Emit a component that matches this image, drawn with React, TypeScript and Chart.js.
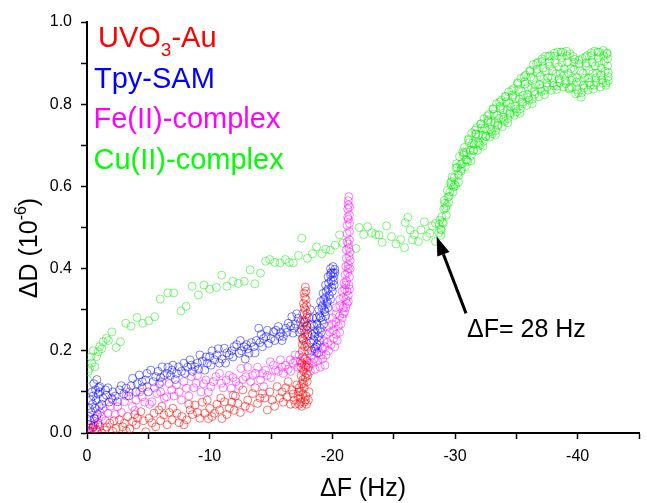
import React, { useEffect, useRef } from 'react';
import { Chart, registerables } from 'chart.js';

Chart.register(...registerables);

type P = [number, number];

// ---------- data (ΔF in Hz, ΔD in 1e-6) ----------
const uvoPoints: P[] = [
  [-0.2, 0.005], [-0.45, 0.012], [-0.6, 0.02], [-0.78, 0.007], [-1.04, 0.015], [-1.2, 0.0], [-1.45, 0.007],
  [-1.6, 0.015], [-1.85, 0.024], [-2.1, 0.004], [-2.2, 0.03], [-2.38, 0.011], [-2.65, 0.032], [-2.9, 0.015],
  [-3.05, 0.024], [-3.2, 0.005], [-3.32, 0.04], [-3.5, 0.01], [-3.72, 0.028], [-3.9, 0.045], [-4.0, 0.02],
  [-4.12, 0.036], [-4.39, 0.052], [-4.6, 0.03], [-4.79, 0.003], [-5.06, 0.036], [-5.3, 0.025], [-5.46, 0.048],
  [-5.6, 0.015], [-5.86, 0.056], [-6.0, 0.03], [-6.1, 0.065], [-6.27, 0.044], [-6.53, 0.02], [-6.7, 0.05],
  [-6.93, 0.032], [-7.0, 0.06], [-7.33, 0.048], [-7.5, 0.025], [-7.73, 0.04], [-7.9, 0.02], [-8.13, 0.032],
  [-8.3, 0.07], [-8.4, 0.056], [-8.6, 0.045], [-8.8, 0.068], [-9.0, 0.05], [-9.2, 0.036], [-9.4, 0.075],
  [-9.6, 0.048], [-9.8, 0.08], [-9.9, 0.035], [-10.0, 0.06], [-10.2, 0.04], [-10.4, 0.048], [-10.6, 0.07],
  [-10.8, 0.056], [-10.9, 0.085], [-11.0, 0.035], [-11.2, 0.076], [-11.4, 0.045], [-11.6, 0.06], [-11.8, 0.075],
  [-11.9, 0.092], [-12.0, 0.055], [-12.1, 0.09], [-12.3, 0.072], [-12.5, 0.05], [-12.7, 0.105], [-12.9, 0.065],
  [-13.1, 0.08], [-13.3, 0.06], [-13.5, 0.096], [-13.7, 0.11], [-13.9, 0.072], [-14.1, 0.085], [-14.3, 0.096],
  [-14.5, 0.085], [-14.7, 0.056], [-14.9, 0.1], [-15.1, 0.08], [-15.3, 0.065], [-15.5, 0.113], [-15.7, 0.085],
  [-15.9, 0.1], [-16.0, 0.075], [-16.2, 0.11], [-16.3, 0.088], [-16.4, 0.125], [-16.6, 0.07], [-16.7, 0.105],
  [-16.8, 0.095], [-16.9, 0.08], [-17.0, 0.07], [-17.1, 0.117],
  [-17.3, 0.07], [-17.5, 0.065], [-17.7, 0.075], [-17.9, 0.07], [-18.05, 0.08], [-17.2, 0.09], [-17.4, 0.085],
  [-17.25, 0.1], [-17.4, 0.075], [-17.8, 0.08], [-17.6, 0.095], [-17.85, 0.09], [-18.1, 0.1], [-17.4, 0.1],
  [-17.3, 0.11], [-17.5, 0.12], [-17.7, 0.11], [-17.95, 0.125], [-17.65, 0.12], [-17.6, 0.13], [-17.8, 0.135],
  [-18.0, 0.14], [-17.45, 0.14], [-17.65, 0.15], [-17.9, 0.145], [-17.45, 0.16], [-17.7, 0.165], [-17.85, 0.16],
  [-18.05, 0.16], [-17.5, 0.17], [-17.7, 0.18], [-17.95, 0.175], [-17.6, 0.185], [-17.55, 0.2], [-17.75, 0.21],
  [-18.0, 0.2], [-17.55, 0.215], [-17.95, 0.21], [-17.85, 0.22], [-17.65, 0.225], [-17.55, 0.23], [-17.75, 0.24],
  [-17.95, 0.235], [-17.7, 0.25], [-17.9, 0.25], [-17.6, 0.26], [-17.8, 0.27], [-17.95, 0.26], [-17.65, 0.275],
  [-17.9, 0.28], [-17.6, 0.29], [-17.8, 0.3], [-17.95, 0.29], [-17.7, 0.305], [-17.9, 0.31], [-17.65, 0.315],
  [-17.85, 0.325], [-17.75, 0.33], [-17.7, 0.34], [-17.85, 0.345], [-17.8, 0.355],
];

const tpyPoints: P[] = [
  [-0.1, 0.02], [-0.15, 0.04], [-0.2, 0.06], [-0.25, 0.03], [-0.3, 0.08], [-0.35, 0.05], [-0.4, 0.1],
  [-0.45, 0.07], [-0.5, 0.09], [-0.55, 0.12], [-0.6, 0.035], [-0.65, 0.06], [-0.7, 0.105], [-0.75, 0.08],
  [-0.8, 0.13], [-0.85, 0.045], [-0.9, 0.095], [-0.95, 0.11], [-1.0, 0.065], [-1.05, 0.1], [-0.5, 0.015], [-0.9, 0.02],
  [-1.04, 0.113], [-1.2, 0.07], [-1.3, 0.085], [-1.5, 0.105], [-1.58, 0.092], [-1.7, 0.11], [-1.8, 0.075],
  [-2.0, 0.085], [-2.11, 0.1], [-2.3, 0.09], [-2.5, 0.076], [-2.65, 0.105], [-2.8, 0.115], [-3.0, 0.095],
  [-3.19, 0.109], [-3.4, 0.09], [-3.6, 0.115], [-3.72, 0.133], [-4.0, 0.1], [-4.1, 0.12], [-4.26, 0.141],
  [-4.5, 0.11], [-4.5, 0.125], [-4.79, 0.129], [-4.9, 0.145], [-5.0, 0.1], [-5.2, 0.153], [-5.4, 0.125],
  [-5.6, 0.137], [-5.8, 0.15], [-5.9, 0.12], [-6.0, 0.135], [-6.13, 0.161], [-6.3, 0.14], [-6.53, 0.145],
  [-6.6, 0.16], [-6.8, 0.14], [-6.93, 0.153], [-7.0, 0.165], [-7.2, 0.13], [-7.3, 0.145], [-7.47, 0.161],
  [-7.7, 0.15], [-7.9, 0.17], [-8.0, 0.145], [-8.2, 0.16], [-8.4, 0.178], [-8.5, 0.165], [-8.6, 0.15],
  [-8.8, 0.161], [-9.0, 0.17], [-9.1, 0.155], [-9.2, 0.19], [-9.4, 0.175], [-9.6, 0.153], [-9.7, 0.185],
  [-9.8, 0.17], [-10.0, 0.186], [-10.1, 0.165], [-10.2, 0.2], [-10.4, 0.178], [-10.6, 0.19], [-10.7, 0.205],
  [-10.8, 0.17], [-11.0, 0.18], [-11.2, 0.206], [-11.3, 0.17], [-11.4, 0.195], [-11.6, 0.19], [-11.8, 0.2],
  [-11.9, 0.185], [-12.0, 0.21], [-12.2, 0.215], [-12.4, 0.194], [-12.5, 0.225], [-12.6, 0.2], [-12.8, 0.21],
  [-12.9, 0.18], [-13.0, 0.215], [-13.1, 0.205], [-13.2, 0.194], [-13.4, 0.22], [-13.6, 0.21], [-13.7, 0.195],
  [-13.8, 0.225], [-14.0, 0.255], [-14.1, 0.22], [-14.2, 0.24], [-14.3, 0.21], [-14.4, 0.23], [-14.6, 0.235],
  [-14.7, 0.25], [-14.8, 0.218], [-15.0, 0.23], [-15.2, 0.246], [-15.3, 0.225], [-15.4, 0.25], [-15.6, 0.259],
  [-15.7, 0.235], [-15.8, 0.245], [-15.9, 0.225], [-16.0, 0.235], [-16.2, 0.255], [-16.3, 0.245], [-16.4, 0.267],
  [-16.6, 0.26], [-16.7, 0.283], [-16.8, 0.243], [-16.9, 0.255], [-17.0, 0.265], [-17.1, 0.29], [-17.2, 0.279],
  [-17.3, 0.245], [-17.4, 0.27], [-17.5, 0.25], [-17.6, 0.23], [-17.7, 0.27], [-17.9, 0.26], [-18.0, 0.24],
  [-18.1, 0.28], [-18.2, 0.3], [-18.3, 0.265], [-18.4, 0.28],
  [-18.3, 0.2], [-18.55, 0.205], [-18.75, 0.195], [-18.65, 0.21], [-18.25, 0.22], [-18.5, 0.225], [-18.75, 0.215],
  [-18.95, 0.225], [-18.55, 0.235], [-18.35, 0.24], [-18.6, 0.245], [-18.85, 0.235], [-19.1, 0.245], [-18.8, 0.25],
  [-18.5, 0.26], [-18.75, 0.265], [-19.0, 0.255], [-19.3, 0.265], [-18.7, 0.28], [-18.95, 0.285], [-19.05, 0.28],
  [-19.2, 0.275], [-19.45, 0.285], [-18.9, 0.3], [-19.15, 0.305], [-19.35, 0.3], [-19.4, 0.295], [-19.65, 0.305],
  [-19.2, 0.31], [-19.05, 0.32], [-19.3, 0.325], [-19.55, 0.315], [-19.6, 0.32], [-19.85, 0.325], [-19.45, 0.33],
  [-19.25, 0.34], [-19.5, 0.345], [-19.75, 0.335], [-20.0, 0.345], [-19.65, 0.35], [-19.45, 0.36], [-19.7, 0.365],
  [-19.95, 0.355], [-20.15, 0.36], [-20.1, 0.37], [-19.9, 0.37], [-19.65, 0.38], [-19.85, 0.385], [-20.1, 0.38],
  [-20.2, 0.39], [-19.9, 0.39], [-20.05, 0.39], [-19.85, 0.4], [-20.05, 0.405], [-20.2, 0.398],
];

const fePoints: P[] = [
  [-0.1, 0.005], [-0.25, 0.012], [-0.35, 0.0], [-0.5, 0.02], [-0.6, 0.035], [-0.7, 0.01], [-0.78, 0.04],
  [-0.9, 0.025], [-1.05, 0.05], [-1.2, 0.04], [-1.3, 0.06], [-1.5, 0.03], [-1.71, 0.048], [-1.9, 0.065],
  [-2.1, 0.08], [-2.3, 0.045], [-2.5, 0.064], [-2.8, 0.05], [-3.05, 0.076], [-3.2, 0.09], [-3.45, 0.1],
  [-3.7, 0.065], [-3.9, 0.055], [-4.0, 0.08], [-4.3, 0.1], [-4.5, 0.088], [-4.7, 0.075], [-4.9, 0.113],
  [-5.1, 0.07], [-5.3, 0.076], [-5.5, 0.11], [-5.7, 0.096], [-6.0, 0.1], [-6.1, 0.125], [-6.3, 0.085],
  [-6.5, 0.088], [-6.7, 0.12], [-6.9, 0.105], [-7.1, 0.09], [-7.3, 0.117], [-7.5, 0.1], [-7.7, 0.08],
  [-7.9, 0.125], [-8.1, 0.109], [-8.3, 0.09], [-8.5, 0.137], [-8.7, 0.11], [-8.9, 0.121], [-9.0, 0.14],
  [-9.3, 0.1], [-9.5, 0.12], [-9.7, 0.129], [-9.9, 0.1], [-10.1, 0.113], [-10.3, 0.125], [-10.5, 0.137],
  [-10.8, 0.145], [-10.95, 0.121], [-11.1, 0.11], [-11.35, 0.129], [-11.6, 0.14], [-11.75, 0.109],
  [-11.9, 0.135], [-12.15, 0.125], [-12.4, 0.115], [-12.55, 0.157], [-12.7, 0.13], [-12.95, 0.137],
  [-13.1, 0.16], [-13.35, 0.125], [-13.5, 0.14], [-13.75, 0.145], [-13.9, 0.16], [-14.15, 0.129],
  [-14.3, 0.145], [-14.4, 0.113], [-14.55, 0.153], [-14.7, 0.14], [-14.95, 0.173], [-15.0, 0.135],
  [-15.2, 0.165], [-15.37, 0.153], [-15.6, 0.15], [-15.77, 0.178], [-15.9, 0.16], [-16.0, 0.145],
  [-16.17, 0.165], [-16.4, 0.155], [-16.57, 0.178], [-16.6, 0.15], [-16.8, 0.17], [-16.97, 0.19],
  [-17.0, 0.175], [-17.2, 0.16], [-17.3, 0.19], [-17.4, 0.175],
  [-17.6, 0.155], [-17.8, 0.18], [-17.9, 0.165], [-18.1, 0.17], [-18.2, 0.15], [-18.4, 0.17], [-18.5, 0.18],
  [-18.6, 0.155], [-18.8, 0.175], [-19.0, 0.16], [-19.1, 0.19], [-19.2, 0.18], [-19.4, 0.165], [-18.3, 0.19],
  [-18.6, 0.2], [-18.9, 0.195], [-19.2, 0.205], [-19.4, 0.21], [-19.5, 0.19], [-19.7, 0.2], [-19.0, 0.215],
  [-19.3, 0.225], [-19.6, 0.22], [-19.9, 0.215], [-20.2, 0.21], [-20.1, 0.23], [-20.4, 0.225], [-19.5, 0.24],
  [-19.8, 0.245], [-20.1, 0.25], [-20.3, 0.24], [-20.6, 0.245], [-19.7, 0.26], [-20.0, 0.265], [-20.3, 0.27],
  [-20.5, 0.26], [-20.7, 0.265], [-20.0, 0.28], [-20.3, 0.29], [-20.6, 0.285], [-20.8, 0.28], [-20.9, 0.29],
  [-20.3, 0.305], [-20.6, 0.31], [-20.9, 0.305], [-21.0, 0.295], [-21.1, 0.305], [-20.6, 0.325], [-20.9, 0.33],
  [-21.1, 0.325], [-21.2, 0.315], [-21.3, 0.32], [-20.8, 0.345], [-21.0, 0.35], [-21.2, 0.345], [-21.3, 0.335],
  [-21.4, 0.35], [-20.95, 0.365], [-21.15, 0.37], [-21.35, 0.36], [-21.1, 0.36], [-21.05, 0.385], [-21.25, 0.39],
  [-21.4, 0.38], [-21.1, 0.405], [-21.3, 0.41], [-21.45, 0.4], [-21.3, 0.4], [-21.15, 0.425], [-21.35, 0.43],
  [-21.45, 0.42], [-21.15, 0.445], [-21.35, 0.45], [-21.45, 0.44], [-21.3, 0.46], [-21.2, 0.465], [-21.4, 0.47],
  [-21.2, 0.485], [-21.4, 0.49], [-21.2, 0.505], [-21.4, 0.51], [-21.3, 0.52], [-21.25, 0.525], [-21.4, 0.53],
  [-21.25, 0.545], [-21.4, 0.55], [-21.3, 0.555], [-21.3, 0.565], [-21.35, 0.575],
];

const cuPoints: P[] = [
  [-0.05, 0.13], [-0.1, 0.15], [-0.2, 0.157], [-0.3, 0.185], [-0.38, 0.17], [-0.5, 0.2], [-0.64, 0.161],
  [-0.78, 0.186], [-0.91, 0.198], [-1.04, 0.21], [-1.2, 0.205], [-1.31, 0.222], [-1.58, 0.23], [-1.75, 0.225],
  [-2.03, 0.246], [-2.38, 0.208], [-2.73, 0.222], [-3.16, 0.267], [-3.59, 0.26], [-4.07, 0.281], [-4.55, 0.267],
  [-5.03, 0.273], [-5.52, 0.283], [-5.97, 0.326], [-6.59, 0.341], [-7.07, 0.341], [-7.66, 0.297], [-8.08, 0.308],
  [-8.57, 0.357], [-9.08, 0.336], [-9.53, 0.36], [-10.0, 0.35], [-10.55, 0.354], [-10.98, 0.384], [-11.4, 0.357],
  [-11.89, 0.369], [-12.34, 0.364], [-12.82, 0.369], [-13.3, 0.397], [-13.68, 0.363], [-14.14, 0.389],
  [-14.56, 0.418], [-14.89, 0.422], [-15.31, 0.415], [-15.74, 0.414], [-16.17, 0.422], [-16.49, 0.415],
  [-16.81, 0.414], [-17.24, 0.432], [-17.51, 0.474], [-17.97, 0.425], [-18.39, 0.436], [-18.71, 0.453],
  [-19.14, 0.436], [-19.46, 0.447], [-19.84, 0.445], [-20.22, 0.457], [-20.59, 0.482], [-20.86, 0.462],
  [-21.93, 0.449], [-22.19, 0.5], [-22.55, 0.483], [-22.87, 0.502], [-23.21, 0.487], [-23.53, 0.483],
  [-23.8, 0.482], [-24.07, 0.464], [-24.42, 0.504], [-24.82, 0.478], [-25.19, 0.46], [-25.57, 0.471],
  [-25.89, 0.451], [-25.94, 0.512], [-26.16, 0.525], [-26.35, 0.494], [-26.53, 0.47], [-26.69, 0.483],
  [-27.01, 0.466], [-27.23, 0.494], [-27.5, 0.514], [-27.69, 0.478], [-27.95, 0.486], [-28.14, 0.504],
  [-28.41, 0.51], [-28.41, 0.466], [-28.67, 0.487], [-28.84, 0.496],
  // rising band
  [-28.77, 0.518], [-28.89, 0.494], [-28.72, 0.507], [-28.84, 0.481],
  [-28.97, 0.513], [-29.09, 0.545], [-28.92, 0.526], [-29.04, 0.51],
  [-29.17, 0.559], [-29.29, 0.53], [-29.12, 0.566], [-29.24, 0.547],
  [-29.37, 0.59], [-29.49, 0.561], [-29.32, 0.553], [-29.44, 0.574],
  [-29.57, 0.586], [-29.69, 0.603], [-29.52, 0.576], [-29.64, 0.609],
  [-29.77, 0.623], [-29.89, 0.599], [-29.72, 0.612], [-29.84, 0.586],
  [-29.97, 0.605], [-30.09, 0.645], [-29.92, 0.621], [-30.04, 0.601],
  [-30.17, 0.646], [-30.29, 0.61], [-30.12, 0.655], [-30.24, 0.631],
  [-30.37, 0.673], [-30.49, 0.637], [-30.32, 0.627], [-30.44, 0.653],
  [-30.57, 0.655], [-30.69, 0.676], [-30.52, 0.643], [-30.64, 0.684],
  [-30.77, 0.695], [-30.89, 0.665], [-30.72, 0.681], [-30.84, 0.648],
  [-30.97, 0.664], [-31.09, 0.712], [-30.92, 0.684], [-31.04, 0.66],
  [-31.17, 0.706], [-31.29, 0.662], [-31.12, 0.716], [-31.24, 0.688],
  [-31.37, 0.73], [-31.49, 0.687], [-31.32, 0.675], [-31.44, 0.706],
  [-31.57, 0.702], [-31.69, 0.728], [-31.52, 0.687], [-31.64, 0.737],
  [-31.77, 0.743], [-31.89, 0.707], [-31.72, 0.727], [-31.84, 0.688],
  [-31.97, 0.704], [-32.09, 0.752], [-31.92, 0.724], [-32.04, 0.7],
  [-32.17, 0.742], [-32.29, 0.698], [-32.12, 0.752], [-32.24, 0.724],
  [-32.37, 0.765], [-32.49, 0.722], [-32.32, 0.71], [-32.44, 0.741],
  [-32.57, 0.736], [-32.69, 0.762], [-32.52, 0.721], [-32.64, 0.771],
  [-32.77, 0.775], [-32.89, 0.739], [-32.72, 0.759], [-32.84, 0.72],
  [-32.97, 0.733], [-33.09, 0.789], [-32.92, 0.756], [-33.04, 0.728],
  [-33.17, 0.776], [-33.29, 0.725], [-33.12, 0.788], [-33.24, 0.755],
  [-33.37, 0.801], [-33.49, 0.75], [-33.32, 0.736], [-33.44, 0.773],
  [-33.57, 0.765], [-33.69, 0.795], [-33.52, 0.748], [-33.64, 0.805],
  [-33.77, 0.81], [-33.89, 0.768], [-33.72, 0.79], [-33.84, 0.745],
  [-33.97, 0.763], [-34.09, 0.819], [-33.92, 0.786], [-34.04, 0.758],
  [-34.17, 0.806], [-34.29, 0.755], [-34.12, 0.818], [-34.24, 0.785],
  [-34.37, 0.83], [-34.49, 0.779], [-34.32, 0.765], [-34.44, 0.802],
  [-34.57, 0.793], [-34.69, 0.823], [-34.52, 0.776], [-34.64, 0.833],
  [-34.77, 0.838], [-34.89, 0.796], [-34.72, 0.818], [-34.84, 0.773],
  [-34.97, 0.788], [-35.09, 0.852], [-34.92, 0.814], [-35.04, 0.782],
  [-35.17, 0.836], [-35.29, 0.778], [-35.12, 0.85], [-35.24, 0.812],
  [-35.37, 0.863], [-35.49, 0.805], [-35.32, 0.789], [-35.44, 0.831],
  [-35.57, 0.821], [-35.69, 0.855], [-35.52, 0.801], [-35.64, 0.867],
  [-35.77, 0.871], [-35.89, 0.823], [-35.72, 0.849], [-35.84, 0.797],
  [-35.97, 0.816], [-36.09, 0.88], [-35.92, 0.842], [-36.04, 0.81],
  [-36.17, 0.866], [-36.29, 0.801], [-36.12, 0.882], [-36.24, 0.839],
  [-36.37, 0.896], [-36.49, 0.831], [-36.32, 0.813], [-36.44, 0.86],
  [-36.57, 0.847], [-36.69, 0.885], [-36.52, 0.824], [-36.64, 0.899],
  [-36.77, 0.902], [-36.89, 0.848], [-36.72, 0.877], [-36.84, 0.818],
  [-36.97, 0.838], [-37.09, 0.91], [-36.92, 0.867], [-37.04, 0.831],
  [-37.17, 0.888], [-37.29, 0.823], [-37.12, 0.904], [-37.24, 0.861],
  [-37.37, 0.917], [-37.49, 0.852], [-37.32, 0.834], [-37.44, 0.881],
  [-37.57, 0.865], [-37.69, 0.903], [-37.52, 0.842], [-37.64, 0.917],
  [-37.77, 0.918], [-37.89, 0.864], [-37.72, 0.893], [-37.84, 0.834],
  [-37.97, 0.852], [-38.09, 0.924], [-37.92, 0.881], [-38.04, 0.845],
  [-38.17, 0.901], [-38.29, 0.836], [-38.12, 0.917], [-38.24, 0.874],
  [-38.37, 0.927], [-38.49, 0.862], [-38.32, 0.844], [-38.44, 0.891],
  [-38.57, 0.875], [-38.69, 0.913], [-38.52, 0.852], [-38.64, 0.927],
  [-38.77, 0.926], [-38.89, 0.871], [-38.72, 0.901], [-38.84, 0.842],
  [-38.97, 0.857], [-39.09, 0.929], [-38.92, 0.886], [-39.04, 0.85],
  [-39.17, 0.902], [-39.29, 0.837], [-39.12, 0.918], [-39.24, 0.875],
  [-39.37, 0.923], [-39.49, 0.858], [-39.32, 0.84], [-39.44, 0.887],
  [-39.57, 0.864], [-39.69, 0.902], [-39.52, 0.841], [-39.64, 0.916],
  [-39.77, 0.909], [-39.89, 0.854], [-39.72, 0.884], [-39.84, 0.825],
  [-39.97, 0.835], [-40.09, 0.907], [-39.92, 0.864], [-40.04, 0.828],
  [-40.17, 0.882], [-40.29, 0.817], [-40.12, 0.898], [-40.24, 0.855],
  [-40.37, 0.911], [-40.49, 0.846], [-40.32, 0.828], [-40.44, 0.875],
  [-40.57, 0.863], [-40.69, 0.901], [-40.52, 0.84], [-40.64, 0.915],
  [-40.77, 0.918], [-40.89, 0.864], [-40.72, 0.893], [-40.84, 0.834],
  [-40.97, 0.853], [-41.09, 0.925], [-40.92, 0.882], [-41.04, 0.846],
  [-41.17, 0.902], [-41.29, 0.837], [-41.12, 0.918], [-41.24, 0.875],
  [-41.37, 0.929], [-41.49, 0.864], [-41.32, 0.846], [-41.44, 0.893],
  [-41.57, 0.875], [-41.69, 0.913], [-41.52, 0.852], [-41.64, 0.927],
  [-41.77, 0.926], [-41.89, 0.871], [-41.72, 0.901], [-41.84, 0.842],
  [-41.97, 0.859], [-42.09, 0.931], [-41.92, 0.888], [-42.04, 0.852],
  [-42.17, 0.904], [-42.29, 0.846], [-42.12, 0.918], [-42.24, 0.88],
  [-42.37, 0.925], [-42.49, 0.867], [-42.32, 0.851], [-42.44, 0.893],
  [-42.5, 0.877], [-42.45, 0.911], [-42.5, 0.857], [-42.42, 0.923],
];

const seriesColors = ['rgba(255,0,0,0.55)', 'rgba(0,0,255,0.5)', 'rgba(255,0,255,0.5)', 'rgba(0,230,0,0.5)'];
const legendColors = ['#ff0000', '#0000ff', '#ff00ff', '#00ff00'];
// legend labels split as [main, subscript, rest]
const legendLabels: [string, string, string][] = [
  ['UVO', '3', '-Au'],
  ['Tpy-SAM', '', ''],
  ['Fe(II)-complex', '', ''],
  ['Cu(II)-complex', '', ''],
];
const xMajorTicks = [0, -10, -20, -30, -40];
const yMajorTicks = [0, 0.2, 0.4, 0.6, 0.8, 1.0];
const arrowTail: P = [-30.9, 0.291];
const arrowHead: P = [-28.5, 0.478];
const annotationText = 'ΔF= 28 Hz';
const xTitle = 'ΔF (Hz)';
const yTitleMain = 'ΔD (10';
const yTitleSup = '-6';
const yTitleEnd = ')';

const FONT = '"Liberation Sans", Arial, Helvetica, sans-serif';

const overlayPlugin = {
  id: 'overlay',
  afterDraw(chart: any) {
    const ctx: CanvasRenderingContext2D = chart.ctx;
    const xs = chart.scales.x;
    const ys = chart.scales.y;
    ctx.save();

    // legend text
    const baselines = [46.5, 87.5, 128, 168.5];
    const lefts = [98, 94, 93.5, 93.5];
    legendLabels.forEach((parts, i) => {
      ctx.fillStyle = legendColors[i];
      ctx.font = `29px ${FONT}`;
      ctx.textAlign = 'left';
      ctx.textBaseline = 'alphabetic';
      let x = lefts[i];
      ctx.fillText(parts[0], x, baselines[i]);
      x += ctx.measureText(parts[0]).width;
      if (parts[1]) {
        ctx.font = `19px ${FONT}`;
        ctx.fillText(parts[1], x, baselines[i] + 9);
        x += ctx.measureText(parts[1]).width;
        ctx.font = `29px ${FONT}`;
      }
      if (parts[2]) ctx.fillText(parts[2], x, baselines[i]);
    });

    // arrow
    const x1 = xs.getPixelForValue(arrowTail[0]);
    const y1 = ys.getPixelForValue(arrowTail[1]);
    const x2 = xs.getPixelForValue(arrowHead[0]);
    const y2 = ys.getPixelForValue(arrowHead[1]);
    const ang = Math.atan2(y2 - y1, x2 - x1);
    const headLen = 19;
    const headW = 6.5;
    const bx = x2 - headLen * Math.cos(ang);
    const by = y2 - headLen * Math.sin(ang);
    ctx.strokeStyle = '#000';
    ctx.fillStyle = '#000';
    ctx.lineWidth = 3;
    ctx.beginPath();
    ctx.moveTo(x1, y1);
    ctx.lineTo(bx, by);
    ctx.stroke();
    ctx.beginPath();
    ctx.moveTo(x2, y2);
    ctx.lineTo(bx + headW * Math.sin(ang), by - headW * Math.cos(ang));
    ctx.lineTo(bx - headW * Math.sin(ang), by + headW * Math.cos(ang));
    ctx.closePath();
    ctx.fill();

    // annotation text
    ctx.font = `25px ${FONT}`;
    ctx.textAlign = 'left';
    ctx.textBaseline = 'alphabetic';
    ctx.fillStyle = '#000';
    ctx.fillText(annotationText, 467, 337);

    // x title
    ctx.textAlign = 'center';
    ctx.fillText(xTitle, (chart.chartArea.left + chart.chartArea.right) / 2, 496);

    // y title (rotated)
    ctx.save();
    ctx.translate(37, 248);
    ctx.rotate(-Math.PI / 2);
    ctx.textAlign = 'left';
    ctx.font = `25px ${FONT}`;
    const w1 = ctx.measureText(yTitleMain).width;
    ctx.font = `16px ${FONT}`;
    const w2 = ctx.measureText(yTitleSup).width;
    ctx.font = `25px ${FONT}`;
    const w3 = ctx.measureText(yTitleEnd).width;
    let sx = -(w1 + w2 + w3) / 2;
    ctx.fillText(yTitleMain, sx, 0);
    sx += w1;
    ctx.font = `16px ${FONT}`;
    ctx.fillText(yTitleSup, sx, -11);
    sx += w2;
    ctx.font = `25px ${FONT}`;
    ctx.fillText(yTitleEnd, sx, 0);
    ctx.restore();

    ctx.restore();
  },
};

export default function App() {
  const ref = useRef<HTMLCanvasElement | null>(null);

  useEffect(() => {
    document.body.style.margin = '0';
    const canvas = ref.current;
    if (!canvas) return;
    const mk = (pts: P[], i: number, label: string) => ({
      label,
      data: pts.map(([x, y]) => ({ x, y })),
      showLine: false,
      pointStyle: 'circle',
      pointRadius: 4,
      pointBorderWidth: 1,
      pointBackgroundColor: 'rgba(0,0,0,0)',
      pointBorderColor: seriesColors[i],
      backgroundColor: 'rgba(0,0,0,0)',
      borderColor: seriesColors[i],
    });
    const chart = new Chart(canvas, {
      type: 'scatter',
      data: {
        datasets: [
          mk(uvoPoints, 0, 'UVO3-Au'),
          mk(tpyPoints, 1, 'Tpy-SAM'),
          mk(fePoints, 2, 'Fe(II)-complex'),
          mk(cuPoints, 3, 'Cu(II)-complex'),
        ] as any,
      },
      options: {
        animation: false,
        responsive: false,
        events: [],
        layout: { padding: { left: 0, top: 22, right: 1, bottom: 0 } },
        plugins: { legend: { display: false }, tooltip: { enabled: false } },
        scales: {
          x: {
            type: 'linear',
            min: -45,
            max: 0,
            reverse: true,
            afterFit: (s: any) => { s.height = 70; },
            ticks: {
              stepSize: 5,
              autoSkip: false,
              maxRotation: 0,
              padding: 8,
              color: '#000',
              font: { family: FONT, size: 16 },
              callback: (v: any) => (xMajorTicks.includes(Math.round(Number(v))) ? String(Math.round(Number(v))) : ''),
            },
            grid: { display: true, drawOnChartArea: false, drawTicks: true, tickLength: 6, tickWidth: 1.5, tickColor: '#000' },
            border: { display: true, color: '#000', width: 2 },
          },
          y: {
            type: 'linear',
            min: 0,
            max: 1,
            afterFit: (s: any) => { s.width = 87; },
            ticks: {
              stepSize: 0.1,
              autoSkip: false,
              padding: 9,
              color: '#000',
              font: { family: FONT, size: 16 },
              callback: (v: any) => {
                const n = Number(v);
                return yMajorTicks.some((t) => Math.abs(t - n) < 1e-6) ? n.toFixed(1) : '';
              },
            },
            grid: { display: true, drawOnChartArea: false, drawTicks: true, tickLength: 6, tickWidth: 1.5, tickColor: '#000' },
            border: { display: true, color: '#000', width: 2 },
          },
        },
      } as any,
      plugins: [overlayPlugin],
    });
    return () => chart.destroy();
  }, []);

  return (
    <div style={{ width: 647, height: 503 }}>
      <canvas ref={ref} width={647} height={503} style={{ display: 'block', width: 647, height: 503 }} />
    </div>
  );
}
